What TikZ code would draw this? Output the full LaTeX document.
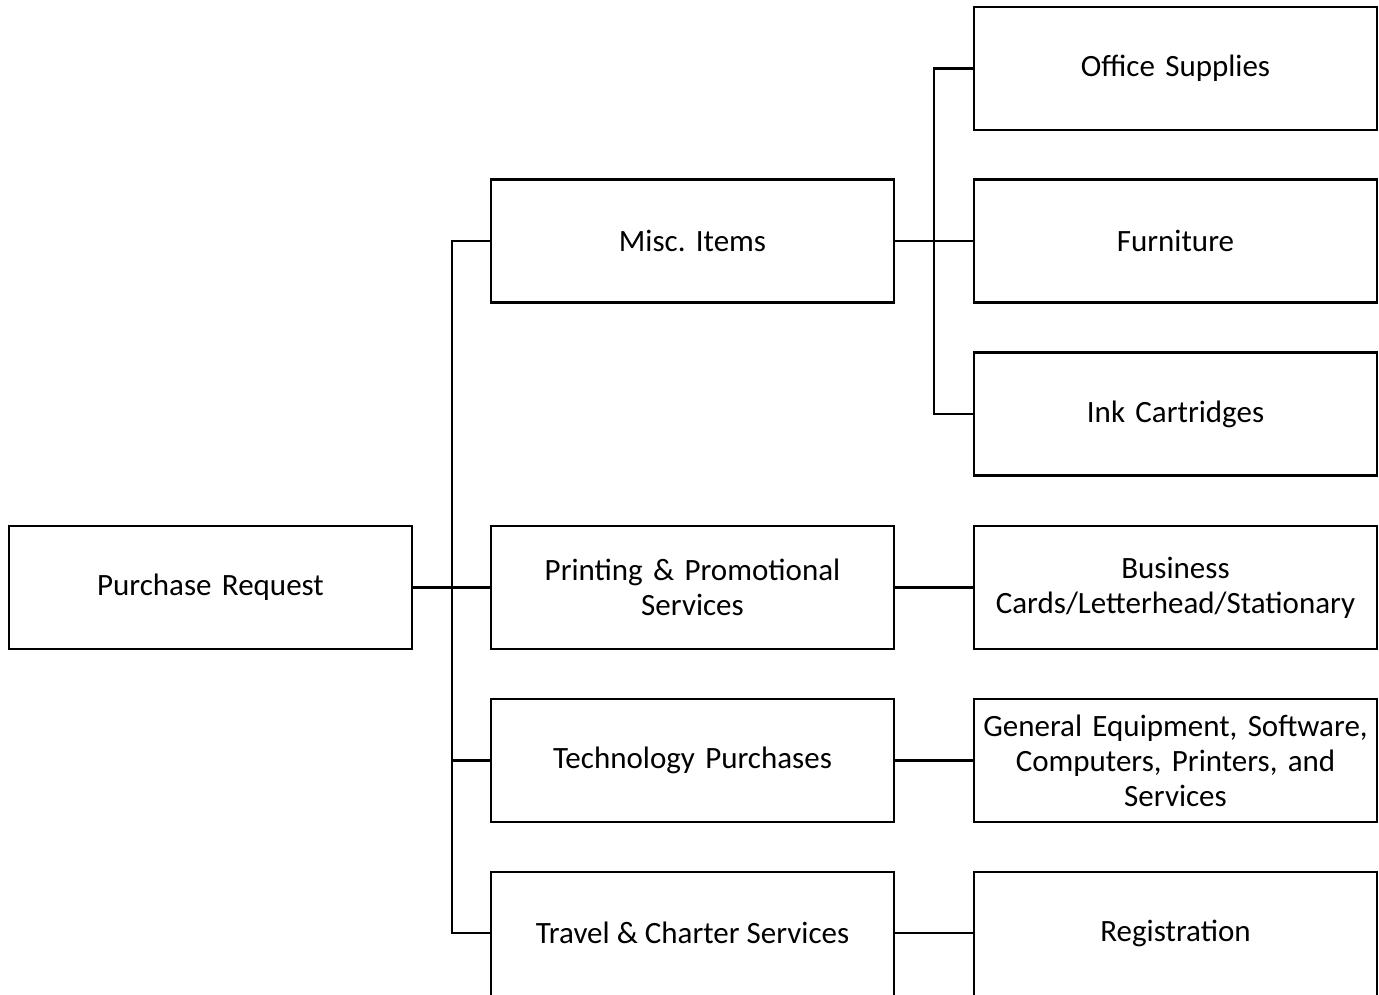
\documentclass[tikz,border=0pt]{standalone}
\usepackage{fontspec}
\setmainfont{Carlito}
\begin{document}
\begin{tikzpicture}[x=1pt,y=-1pt,
  txt/.style={font=\fontsize{31}{35}\selectfont\frenchspacing},
  box/.style={txt,draw=black,line width=2.5pt,minimum width=403pt,minimum height=123pt,
    text width=398pt,align=center,inner sep=0pt},
  conn/.style={draw=black,line width=2.5pt,line join=miter}]
\useasboundingbox (0,0) rectangle (1379,994);
\node[box] (pr) at (210.5,587.5) {Purchase Request};
\node[box] (misc) at (692.5,241) {Misc. Items};
\node[box] (print) at (692.5,587.5) {Printing \& Promotional\\Services};
\node[box] (tech) at (692.5,760.5) {Technology Purchases};
\node[box,minimum height=125pt] (travel) at (692.5,934.5) {};
\node[txt] (traveltxt) at (692.5,933) {Travel \& Charter Services};
\node[box] (office) at (1175.5,68.5) {Office Supplies};
\node[box] (furn) at (1175.5,241) {Furniture};
\node[box] (ink) at (1175.5,414) {Ink Cartridges};
\node[box] (bus) at (1175.5,587.5) {Business\\Cards/Letterhead/Stationary};
\node[box] (gen) at (1175.5,760.5) {General Equipment, Software,\\Computers, Printers, and\\Services};
\node[box,minimum height=125pt] (reg) at (1175.5,934.5) {};
\node[txt] (regtxt) at (1175.5,933) {Registration};
\coordinate (j1) at (452,587.5);
\coordinate (j2) at (934,241);
\foreach \n in {misc,print,tech} \draw[conn] (pr.east) -- (j1) |- (\n.west);
\draw[conn] (pr.east) -- (j1) |- (travel.west |- traveltxt);
\foreach \n in {office,furn,ink} \draw[conn] (misc.east) -- (j2) |- (\n.west);
\draw[conn] (print.east) -- (bus.west);
\draw[conn] (tech.east) -- (gen.west);
\draw[conn] (travel.east |- traveltxt) -- (reg.west |- regtxt);
\end{tikzpicture}
\end{document}
